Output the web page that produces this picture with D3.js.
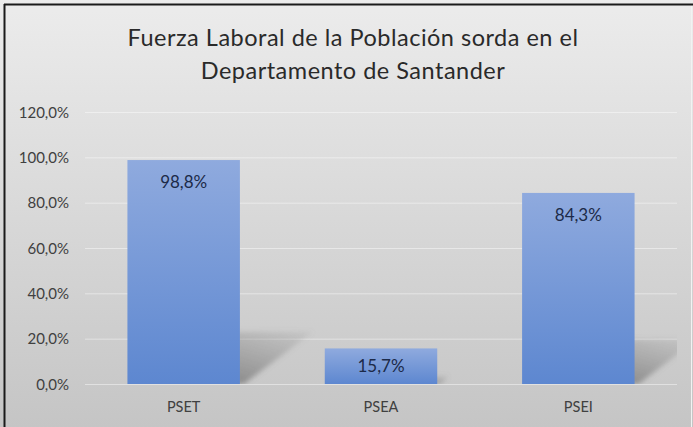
<!DOCTYPE html>
<html>
<head>
<meta charset="utf-8">
<script src="https://cdn.jsdelivr.net/npm/d3@7"></script>
<style>
  html, body { margin: 0; padding: 0; background: #fff; }
  svg { display: block; font-family: Lato, "Open Sans", sans-serif; }
</style>
</head>
<body>
<svg id="chart" width="693" height="427"></svg>
<script>
'use strict';

// data
const categories = ['PSET', 'PSEA', 'PSEI'];
const values = [98.8, 15.7, 84.3];
const yTicks = [0, 20, 40, 60, 80, 100, 120];
const titleLines = ['Fuerza Laboral de la Población sorda en el', 'Departamento de Santander'];

const W = 693, H = 427;
const margin = { top: 112, right: 16, bottom: 43, left: 85 };

const svg = d3.select('#chart');
const defs = svg.append('defs');

// background gradient
const bg = defs.append('linearGradient').attr('id', 'bg')
    .attr('x1', 0).attr('y1', 0).attr('x2', 0).attr('y2', 1);
bg.append('stop').attr('offset', '0%').attr('stop-color', '#ececec');
bg.append('stop').attr('offset', '100%').attr('stop-color', '#c5c5c5');

// bar gradient
const barG = defs.append('linearGradient').attr('id', 'barG')
    .attr('x1', 0).attr('y1', 0).attr('x2', 0).attr('y2', 1);
barG.append('stop').attr('offset', '0%').attr('stop-color', '#8faade');
barG.append('stop').attr('offset', '100%').attr('stop-color', '#5d87d0');

// shadow gradient, dark near the base, fading to upper right
const shG = defs.append('linearGradient').attr('id', 'shG')
    .attr('x1', 0).attr('y1', 1).attr('x2', 1).attr('y2', 0);
shG.append('stop').attr('offset', '0%').attr('stop-color', '#5e5e5e').attr('stop-opacity', 0.85);
shG.append('stop').attr('offset', '100%').attr('stop-color', '#808080').attr('stop-opacity', 0.1);

defs.append('filter').attr('id', 'blur')
    .attr('x', '-20%').attr('y', '-20%').attr('width', '140%').attr('height', '140%')
  .append('feGaussianBlur').attr('stdDeviation', 2.5);

// chart area
svg.append('rect').attr('x', 0).attr('y', 0).attr('width', W).attr('height', H)
    .attr('fill', 'url(#bg)');

const x0 = margin.left, x1 = W - margin.right;
const yBase = H - margin.bottom;

const x = d3.scaleBand().domain(categories).range([x0, x1])
    .paddingInner(0.43).paddingOuter(0.215);
const y = d3.scaleLinear().domain([0, 120]).range([yBase, margin.top]);

defs.append('clipPath').attr('id', 'plotClip')
  .append('rect').attr('x', x0).attr('y', margin.top)
    .attr('width', x1 - x0).attr('height', yBase - margin.top);

// gridlines
svg.append('g').selectAll('line').data(yTicks).join('line')
    .attr('x1', x0).attr('x2', x1)
    .attr('y1', d => y(d) + 0.5).attr('y2', d => y(d) + 0.5)
    .attr('stroke', '#ffffff').attr('stroke-opacity', 0.45).attr('stroke-width', 1);

// y axis labels
svg.append('g').selectAll('text').data(yTicks).join('text')
    .attr('x', 69).attr('y', d => y(d) + 5.5)
    .attr('text-anchor', 'end')
    .attr('font-size', 15).attr('fill', '#404040')
    .text(d => d3.format('.1f')(d).replace('.', ',') + '%');

// perspective shadows behind bars
const shadowScaleX = 0.74, shadowScaleY = 0.53;
svg.append('g').attr('clip-path', 'url(#plotClip)')
  .append('g').attr('filter', 'url(#blur)')
  .selectAll('path').data(values).join('path')
    .attr('d', (v, i) => {
      const bx0 = x(categories[i]) + 6, bx1 = x(categories[i]) + x.bandwidth();
      const dx = v * shadowScaleX, dy = v * shadowScaleY;
      return `M${bx0},${yBase} L${bx1 + 4},${yBase} L${bx1 + dx},${yBase - dy} L${bx0 + dx},${yBase - dy} Z`;
    })
    .attr('fill', 'url(#shG)');

// bars
svg.append('g').selectAll('rect').data(values).join('rect')
    .attr('x', (v, i) => x(categories[i]))
    .attr('y', v => y(v))
    .attr('width', x.bandwidth())
    .attr('height', v => yBase - y(v))
    .attr('fill', 'url(#barG)');

// value labels (inside end, centred when the bar is short)
svg.append('g').selectAll('text').data(values).join('text')
    .attr('x', (v, i) => x(categories[i]) + x.bandwidth() / 2)
    .attr('y', v => Math.min(y(v) + 28, (y(v) + yBase) / 2 + 6))
    .attr('text-anchor', 'middle')
    .attr('font-size', 17).attr('fill', '#1c2a48')
    .text(v => d3.format('.1f')(v).replace('.', ',') + '%');

// category labels
svg.append('g').selectAll('text').data(categories).join('text')
    .attr('x', d => x(d) + x.bandwidth() / 2)
    .attr('y', 412)
    .attr('text-anchor', 'middle')
    .attr('font-size', 14.5).attr('fill', '#404040')
    .text(d => d);

// title
svg.append('g').selectAll('text').data(titleLines).join('text')
    .attr('x', 353).attr('y', (d, i) => 46 + i * 33)
    .attr('text-anchor', 'middle')
    .attr('font-size', 23.5).attr('letter-spacing', 0.5).attr('fill', '#2a2a2a')
    .text(d => d);

// frame: dark on left and top, light on the right
svg.append('line').attr('x1', 4.5).attr('x2', 4.5).attr('y1', 4).attr('y2', H)
    .attr('stroke', '#1a1a1a').attr('stroke-width', 2);
svg.append('line').attr('x1', 4).attr('x2', W).attr('y1', 4.5).attr('y2', 4.5)
    .attr('stroke', '#1a1a1a').attr('stroke-width', 2);
svg.append('line').attr('x1', 691.5).attr('x2', 691.5).attr('y1', 6).attr('y2', H)
    .attr('stroke', '#f2f2f2').attr('stroke-width', 1);
</script>
</body>
</html>
